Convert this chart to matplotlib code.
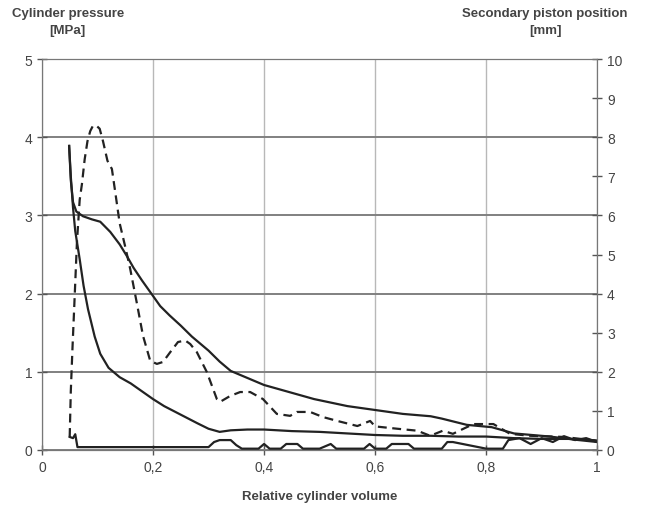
import numpy as np
import matplotlib.pyplot as plt

plt.rcParams['font.family'] = ['Liberation Sans', 'DejaVu Sans']

# cylinder pressure loop [MPa], upper (expansion) and lower (compression) branch
exp_x = [0.049, 0.052, 0.056, 0.062, 0.074, 0.09, 0.105, 0.123, 0.14, 0.153, 0.165, 0.18, 0.2,
         0.213, 0.23, 0.25, 0.27, 0.30, 0.32, 0.34, 0.37, 0.40, 0.45, 0.49, 0.55, 0.61, 0.65,
         0.70, 0.72, 0.765, 0.81, 0.85, 0.915, 0.96, 1.0]
exp_p = [3.89, 3.45, 3.17, 3.05, 2.99, 2.95, 2.92, 2.79, 2.63, 2.48, 2.33, 2.17, 1.97,
         1.84, 1.72, 1.59, 1.45, 1.27, 1.13, 1.01, 0.92, 0.83, 0.73, 0.65, 0.56, 0.50, 0.46,
         0.43, 0.40, 0.32, 0.29, 0.21, 0.17, 0.13, 0.10]
cmp_x = [1.0, 0.95, 0.9, 0.85, 0.8, 0.75, 0.7, 0.65, 0.6, 0.55, 0.5, 0.45, 0.4, 0.37, 0.34,
         0.32, 0.30, 0.28, 0.25, 0.22, 0.2, 0.18, 0.16, 0.14, 0.12, 0.105, 0.095, 0.083,
         0.075, 0.068, 0.060, 0.056, 0.052, 0.049]
cmp_p = [0.12, 0.14, 0.14, 0.15, 0.17, 0.17, 0.18, 0.18, 0.19, 0.21, 0.23, 0.24, 0.26, 0.26, 0.25,
         0.23, 0.27, 0.34, 0.45, 0.56, 0.65, 0.75, 0.85, 0.93, 1.05, 1.23, 1.45, 1.8,
         2.1, 2.44, 2.8, 3.1, 3.5, 3.89]

# secondary piston position [mm]
pis_x = [0.050, 0.052, 0.055, 0.058, 0.063, 0.068, 0.072, 0.077, 0.082, 0.087, 0.092, 0.098,
         0.104, 0.110, 0.118, 0.126, 0.132, 0.140, 0.150, 0.159, 0.171, 0.182, 0.195, 0.207,
         0.218, 0.231, 0.245, 0.258, 0.267, 0.279, 0.297, 0.315, 0.321, 0.339, 0.357, 0.375,
         0.398, 0.423, 0.447, 0.459, 0.483, 0.506, 0.532, 0.568, 0.591, 0.600, 0.64, 0.676,
         0.699, 0.722, 0.74, 0.759, 0.777, 0.813, 0.843, 0.879, 0.94, 1.0]
pis_mm = [0.33, 1.5, 2.6, 3.6, 5.3, 6.4, 6.8, 7.44, 7.9, 8.16, 8.3, 8.3,
          8.22, 7.9, 7.4, 7.19, 6.6, 5.8, 5.2, 4.63, 3.75, 2.92, 2.28, 2.2,
          2.25, 2.5, 2.76, 2.8, 2.71, 2.5, 1.99, 1.3, 1.23, 1.38, 1.48, 1.48,
          1.3, 0.92, 0.87, 0.97, 0.97, 0.84, 0.74, 0.61, 0.74, 0.6, 0.54, 0.49,
          0.36, 0.49, 0.41, 0.54, 0.66, 0.66, 0.41, 0.36, 0.33, 0.23]
ret_x = [0.050, 0.056, 0.060, 0.064, 0.30, 0.31, 0.32, 0.34, 0.35, 0.36, 0.39, 0.40, 0.41, 0.43,
         0.44, 0.46, 0.47, 0.50, 0.52, 0.53, 0.58, 0.59, 0.60, 0.62, 0.63, 0.66, 0.67, 0.70,
         0.72, 0.73, 0.74, 0.80, 0.83, 0.84, 0.86, 0.88, 0.90, 0.92, 0.94, 0.96, 0.98, 1.0]
ret_mm = [0.33, 0.30, 0.40, 0.07, 0.07, 0.2, 0.25, 0.25, 0.12, 0.03, 0.03, 0.15, 0.03, 0.03,
          0.15, 0.15, 0.03, 0.03, 0.15, 0.03, 0.03, 0.15, 0.03, 0.03, 0.15, 0.15, 0.03, 0.03,
          0.03, 0.2, 0.2, 0.03, 0.03, 0.25, 0.3, 0.15, 0.3, 0.2, 0.35, 0.25, 0.3, 0.2]

xticks = [0, 0.2, 0.4, 0.6, 0.8, 1]
xlabels = ['0', '0,2', '0,4', '0,6', '0,8', '1']

fig = plt.figure(figsize=(6.45, 5.06), dpi=100)
ax = fig.add_axes([0.065, 0.109, 0.861, 0.772])
ax2 = ax.twinx()
lc = '#222222'
tc = '#444444'

ax.plot(exp_x, exp_p, color=lc, lw=1.6)
ax.plot(cmp_x, cmp_p, color=lc, lw=1.6)
ax2.plot(pis_x, pis_mm, color=lc, lw=1.6, ls=(0, (4, 2.5)))
ax2.plot(ret_x, ret_mm, color=lc, lw=1.6)

ax.set_xlim(0, 1)
ax.set_ylim(0, 5)
ax2.set_ylim(0, 10)
ax.set_xticks(xticks)
ax.set_xticklabels(xlabels)
ax.set_yticks(range(6))
ax2.set_yticks(range(11))
for a in (ax, ax2):
    a.tick_params(direction='inout', length=7, width=1, colors='#555555', labelcolor=tc, labelsize=10)
    for s in a.spines.values():
        s.set_color('#777777')
ax.grid(axis='y', color='#808080', lw=1.4)
ax.grid(axis='x', color='#b8b8b8', lw=1.0)
ax.set_axisbelow(True)

ax.set_xlabel('Relative cylinder volume', fontsize=9.5, fontweight='bold', color=tc, labelpad=12)
fig.text(0.105, 0.955, 'Cylinder pressure\n[MPa]', ha='center', va='center', fontsize=9.5,
         fontweight='bold', color=tc, linespacing=1.6)
fig.text(0.845, 0.955, 'Secondary piston position\n[mm]', ha='center', va='center', fontsize=9.5,
         fontweight='bold', color=tc, linespacing=1.6)

fig.savefig('out.png', dpi=100)
